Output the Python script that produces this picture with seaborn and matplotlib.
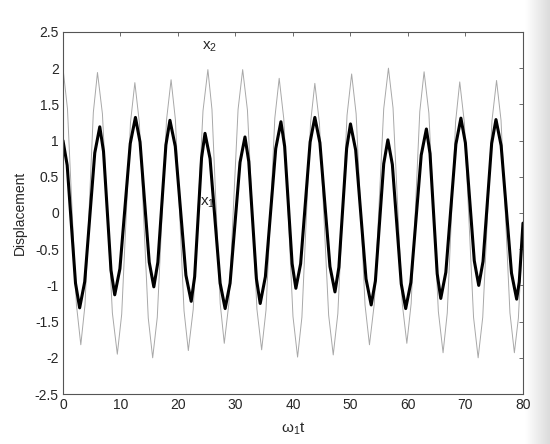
import numpy as np
import pandas as pd
import matplotlib
matplotlib.use("Agg")
import matplotlib.pyplot as plt
import seaborn as sns

# points: extrema plus two flank points per half cycle
x1_t = [0, 0.73, 2.18, 2.9, 3.78, 5.53, 6.4, 7.05, 8.35, 9.0, 9.9, 11.7, 12.6, 13.4, 15.0,
        15.8, 16.5, 17.9, 18.6, 19.53, 21.38, 22.3, 22.9, 24.1, 24.7, 25.58, 27.33, 28.2,
        29.06, 30.79, 31.65, 32.31, 33.64, 34.3, 35.2, 37.0, 37.9, 38.55, 39.85, 40.5,
        41.33, 42.98, 43.8, 44.68, 46.43, 47.3, 47.98, 49.33, 50.0, 50.9, 52.7, 53.6,
        54.33, 55.78, 56.5, 57.28, 58.83, 59.6, 60.5, 62.3, 63.2, 63.83, 65.08, 65.7,
        66.58, 68.33, 69.2, 69.98, 71.53, 72.3, 73.05, 74.55, 75.3, 76.2, 78.0, 78.9,
        79.35, 80]
x1_y = [1.0, 0.66, -0.97, -1.31, -0.95, 0.83, 1.19, 0.85, -0.79, -1.13, -0.77, 0.96, 1.32,
        0.98, -0.68, -1.02, -0.68, 0.94, 1.28, 0.92, -0.86, -1.22, -0.88, 0.76, 1.10, 0.75,
        -0.97, -1.32, -0.97, 0.70, 1.05, 0.71, -0.91, -1.25, -0.88, 0.89, 1.26, 0.92, -0.70,
        -1.04, -0.70, 0.98, 1.32, 0.97, -0.74, -1.09, -0.75, 0.89, 1.23, 0.87, -0.91, -1.27,
        -0.94, 0.68, 1.01, 0.67, -0.98, -1.32, -0.96, 0.80, 1.16, 0.82, -0.84, -1.18, -0.82,
        0.95, 1.31, 0.97, -0.66, -1.00, -0.67, 0.96, 1.29, 0.93, -0.83, -1.19, -0.95, -0.14]

x2_t = [0, 0.78, 2.33, 3.1, 3.83, 5.28, 6.0, 6.86, 8.59, 9.45, 10.21, 11.74, 12.5, 13.28,
        14.83, 15.6, 16.4, 18.0, 18.8, 19.55, 21.05, 21.8, 22.65, 24.35, 25.2, 25.91, 27.34,
        28.05, 28.85, 30.45, 31.25, 32.08, 33.73, 34.55, 35.31, 36.84, 37.6, 38.4, 40.0,
        40.8, 41.55, 43.05, 43.8, 44.6, 46.2, 47.0, 47.8, 49.4, 50.2, 50.98, 52.53, 53.3,
        54.13, 55.78, 56.6, 57.4, 59.0, 59.8, 60.55, 62.05, 62.8, 63.63, 65.28, 66.1, 66.83,
        68.28, 69.0, 69.8, 71.4, 72.2, 73.0, 74.6, 75.4, 76.18, 77.73, 78.5, 79.2, 80]
x2_y = [2.0, 1.44, -1.26, -1.82, -1.27, 1.39, 1.94, 1.37, -1.38, -1.95, -1.40, 1.25, 1.80,
        1.25, -1.45, -2.0, -1.44, 1.28, 1.84, 1.29, -1.35, -1.90, -1.33, 1.41, 1.98, 1.43,
        -1.25, -1.80, -1.25, 1.43, 1.98, 1.42, -1.33, -1.89, -1.34, 1.31, 1.86, 1.30, -1.43,
        -1.99, -1.44, 1.24, 1.79, 1.24, -1.41, -1.96, -1.39, 1.35, 1.92, 1.37, -1.27, -1.82,
        -1.26, 1.44, 2.0, 1.45, -1.25, -1.80, -1.25, 1.40, 1.95, 1.38, -1.36, -1.93, -1.38,
        1.26, 1.81, 1.25, -1.44, -2.0, -1.44, 1.27, 1.83, 1.28, -1.38, -1.93, -1.45, -0.15]

x_ticks = [0, 10, 20, 30, 40, 50, 60, 70, 80]
y_ticks = [-2.5, -2, -1.5, -1, -0.5, 0, 0.5, 1, 1.5, 2, 2.5]

sns.set_style("white")
plt.rcParams['font.family'] = ['Liberation Sans', 'DejaVu Sans']
plt.rcParams['mathtext.fontset'] = 'custom'
plt.rcParams['mathtext.rm'] = 'Liberation Sans'
plt.rcParams['mathtext.it'] = 'Liberation Sans'

df1 = pd.DataFrame({'t': x1_t, 'x': x1_y})
df2 = pd.DataFrame({'t': x2_t, 'x': x2_y})

fig = plt.figure(figsize=(5.5, 4.44), dpi=100)

# light page edge on the right
edge = fig.add_axes([0.955, 0, 0.045, 1], zorder=-1)
edge.imshow(np.linspace(1.0, 0.86, 50)[None, :], cmap='gray', vmin=0, vmax=1,
            aspect='auto', extent=[0, 1, 0, 1])
edge.axis('off')

ax = fig.add_axes([0.1145, 0.1126, 0.8364, 0.8154])

sns.lineplot(data=df2, x='t', y='x', ax=ax, color='#a8a8a8', linewidth=0.7, estimator=None)
sns.lineplot(data=df1, x='t', y='x', ax=ax, color='black', linewidth=2.2, estimator=None)

ax.set_xlim(0, 80)
ax.set_ylim(-2.5, 2.5)
ax.set_xticks(x_ticks)
ax.set_xticklabels([str(v) for v in x_ticks])
ax.set_yticks(y_ticks)
ax.set_yticklabels([('%g' % v) for v in y_ticks])
ax.tick_params(direction='in', top=True, right=True, length=3, width=0.6,
               color='#555555', labelsize=10, pad=3)
for s in ax.spines.values():
    s.set_color('#555555')
    s.set_linewidth(0.8)

ax.set_xlabel(r'$\mathregular{\omega_1t}$', fontsize=11, labelpad=6)
ax.set_ylabel('Displacement', fontsize=10, labelpad=6)

ax.text(25.5, 2.29, r'$\mathregular{x_2}$', fontsize=11, ha='center', va='center')
ax.text(25.2, 0.14, r'$\mathregular{x_1}$', fontsize=11, ha='center', va='center')

fig.savefig('out.png', dpi=100)
